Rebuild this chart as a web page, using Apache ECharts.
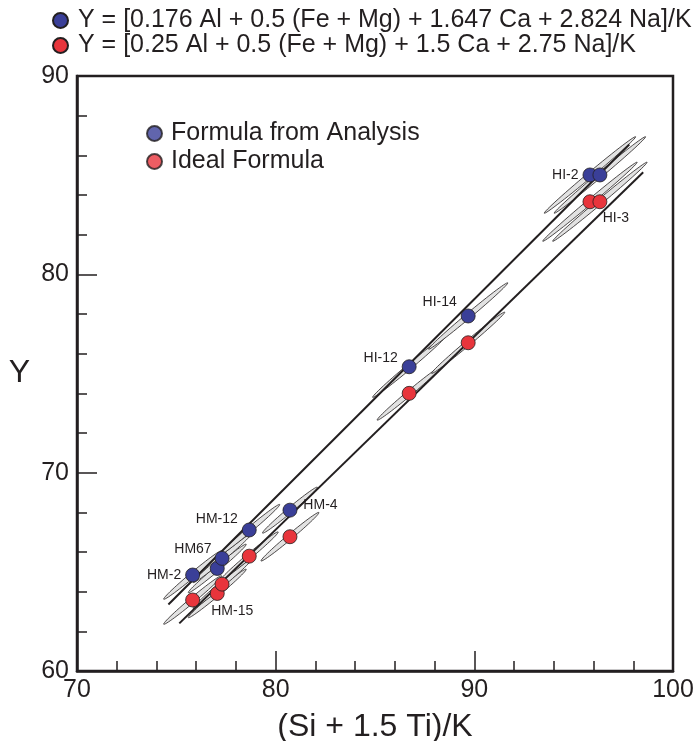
<!DOCTYPE html>
<html>
<head>
<meta charset="utf-8">
<script src="https://cdn.jsdelivr.net/npm/echarts@6/dist/echarts.min.js"></script>
<style>
html,body{margin:0;padding:0;background:#fff;}
#chart{width:699px;height:741px;}
</style>
</head>
<body>
<div id="chart"></div>
<script>
// ---- data ----
const samples = ['HM-2','HM-15','HM67','HM-12','HM-4','HI-12','HI-14','HI-2','HI-3'];
const xValues = [75.82, 77.06, 77.30, 78.67, 80.72, 86.72, 89.69, 95.82, 96.32];
const yAnalysis = [64.84, 65.17, 65.68, 67.11, 68.11, 75.34, 77.90, 85.01, 85.01];
const yIdeal = [63.58, 63.91, 64.38, 65.79, 66.77, 74.00, 76.55, 83.66, 83.66];
// half-length of the error ellipses (data units, along the long axis)
const errAnalysis = [1.9, 1.9, 1.9, 2.0, 1.8, 2.4, 2.6, 3.0, 3.0];
const errIdeal = [1.9, 1.9, 1.9, 1.9, 1.9, 2.1, 2.4, 3.1, 3.1];
// labels shown on which series
const labelsAnalysis = ['HM-2','','HM67','HM-12','HM-4','HI-12','HI-14','HI-2',''];
const labelsIdeal = ['','HM-15','','','','','','','HI-3'];
// regression lines
const fitAnalysis = [[74.6, 63.35], [97.8, 86.55]];
const fitIdeal = [[75.15, 62.4], [98.5, 85.15]];
const xTicks = [70, 80, 90, 100];
const yTicks = [60, 70, 80, 90];

const legendTop = ['Y = [0.176 Al + 0.5 (Fe + Mg) + 1.647 Ca + 2.824 Na]/K',
                   'Y = [0.25 Al + 0.5 (Fe + Mg) + 1.5 Ca + 2.75 Na]/K'];
const legendInner = ['Formula from Analysis', 'Ideal Formula'];

// ---- styles ----
const BLUE = '#3a3f98';
const RED = '#e8353c';
const INK = '#231f20';
const FONT = '"Liberation Sans", Arial, Helvetica, sans-serif';

const labelStyle = {
  'HM-2':  {position:'left', distance:4, offset:[0,0]},
  'HM67':  {position:'left', distance:3, offset:[0,-9]},
  'HM-12': {position:'left', distance:4, offset:[0,-11]},
  'HM-4':  {position:'right', distance:6, offset:[0,-5]},
  'HI-12': {position:'left', distance:4, offset:[0,-9]},
  'HI-14': {position:'left', distance:4, offset:[0,-14]},
  'HI-2':  {position:'left', distance:4, offset:[0,0]},
  'HM-15': {position:'bottom', distance:3, offset:[15,0]},
  'HI-3':  {position:'bottom', distance:2, offset:[16,0]}
};

function pointData(ys, labels) {
  return xValues.map((x, i) => {
    const item = {value: [x, ys[i]]};
    const name = labels[i];
    if (name) {
      const s = labelStyle[name];
      item.label = {show: true, formatter: name, position: s.position,
                    distance: s.distance, offset: s.offset,
                    color: INK, fontSize: 14, fontFamily: FONT};
    }
    return item;
  });
}
function ellipseData(ys, errs) {
  return xValues.map((x, i) => [x, ys[i], errs[i]]);
}

const THETA = 40 * Math.PI / 180;
const MINOR = 0.13;
function renderEllipse(params, api) {
  const cx = api.value(0), cy = api.value(1), a = api.value(2);
  const pts = [];
  const n = 60;
  for (let k = 0; k < n; k++) {
    const t = 2 * Math.PI * k / n;
    const dx = a * Math.cos(t) * Math.cos(THETA) - MINOR * Math.sin(t) * Math.sin(THETA);
    const dy = a * Math.cos(t) * Math.sin(THETA) + MINOR * Math.sin(t) * Math.cos(THETA);
    pts.push(api.coord([cx + dx, cy + dy]));
  }
  return {
    type: 'polygon',
    shape: {points: pts},
    style: {fill: '#e2e2e2', stroke: INK, lineWidth: 0.8}
  };
}

const chart = echarts.init(document.getElementById('chart'), null, {renderer: 'canvas'});

const axisCommon = {
  type: 'value',
  interval: 10,
  axisLine: {show: true, onZero: false, lineStyle: {color: INK, width: 2.5}},
  axisTick: {show: true, inside: true, length: 20, lineStyle: {color: INK, width: 1.5}},
  minorTick: {show: true, splitNumber: 5, length: 10, lineStyle: {color: INK, width: 1.5}},
  splitLine: {show: false}
};

chart.setOption({
  animation: false,
  backgroundColor: '#fff',
  grid: {left: 77, right: 26, top: 76, bottom: 70, show: true,
         outerBoundsMode: 'none', containLabel: false,
         borderColor: INK, borderWidth: 2.5, backgroundColor: 'transparent'},
  xAxis: Object.assign({}, axisCommon, {
    min: xTicks[0], max: xTicks[xTicks.length - 1],
    name: '(Si + 1.5 Ti)/K', nameLocation: 'middle', nameGap: 40,
    nameTextStyle: {color: INK, fontFamily: FONT, fontSize: 32},
    axisLabel: {color: INK, fontSize: 25, fontFamily: FONT, margin: 7}
  }),
  yAxis: Object.assign({}, axisCommon, {
    min: yTicks[0], max: yTicks[yTicks.length - 1],
    name: 'Y', nameLocation: 'middle', nameGap: 47, nameRotate: 0,
    nameTextStyle: {color: INK, fontFamily: FONT, fontSize: 32},
    axisLabel: {color: INK, fontSize: 25, fontFamily: FONT, margin: 8}
  }),
  legend: [
    {
      data: legendTop, orient: 'vertical', left: 47, top: 3, itemGap: 0,
      itemWidth: 15, itemHeight: 15, icon: 'circle',
      textStyle: {color: INK, fontSize: 25, fontFamily: FONT, lineHeight: 23,
                  padding: [0, 0, 0, 5]},
      selectedMode: false
    },
    {
      data: legendInner, orient: 'vertical', left: 141, top: 116, itemGap: 3,
      itemWidth: 15, itemHeight: 15, icon: 'circle',
      textStyle: {color: INK, fontSize: 25, fontFamily: FONT, lineHeight: 25,
                  padding: [0, 0, 0, 4]},
      selectedMode: false
    }
  ],
  series: [
    {type: 'custom', name: 'ellipsesA', renderItem: renderEllipse,
     data: ellipseData(yAnalysis, errAnalysis), encode: {x: 0, y: 1}, z: 1, silent: true},
    {type: 'custom', name: 'ellipsesI', renderItem: renderEllipse,
     data: ellipseData(yIdeal, errIdeal), encode: {x: 0, y: 1}, z: 1, silent: true},
    {type: 'line', name: 'fitA', data: fitAnalysis, symbol: 'none', z: 2,
     lineStyle: {color: INK, width: 2}, silent: true},
    {type: 'line', name: 'fitI', data: fitIdeal, symbol: 'none', z: 2,
     lineStyle: {color: INK, width: 2}, silent: true},
    {type: 'scatter', name: legendTop[0], data: pointData(yAnalysis, labelsAnalysis),
     symbolSize: 14, z: 5,
     itemStyle: {color: BLUE, borderColor: INK, borderWidth: 0.8, opacity: 1}},
    {type: 'scatter', name: legendTop[1], data: pointData(yIdeal, labelsIdeal),
     symbolSize: 14, z: 5,
     itemStyle: {color: RED, borderColor: INK, borderWidth: 0.8, opacity: 1}},
    {type: 'scatter', name: legendInner[0], data: [],
     itemStyle: {color: BLUE, borderColor: INK, borderWidth: 0.8}},
    {type: 'scatter', name: legendInner[1], data: [],
     itemStyle: {color: RED, borderColor: INK, borderWidth: 0.8}}
  ]
});
</script>
</body>
</html>
